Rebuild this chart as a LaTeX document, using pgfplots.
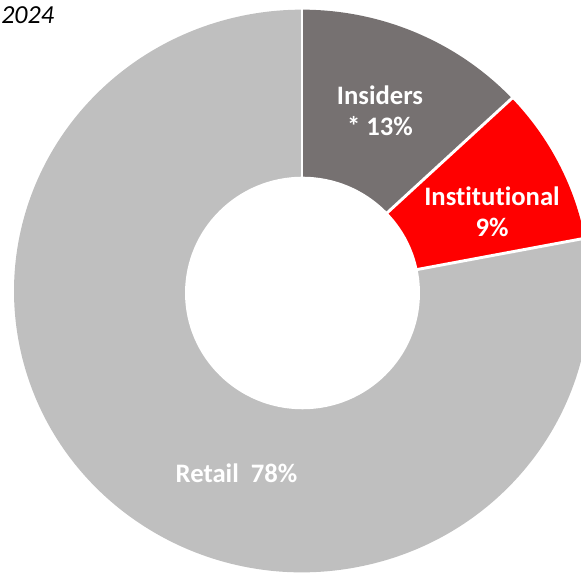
\documentclass[border=0pt]{standalone}
\usepackage{pgfplots}
\usepackage{pgfplotstable}
\pgfplotsset{compat=1.18}
\usepackage{fontspec}
\setmainfont[Ligatures=NoCommon]{Carlito}
\definecolor{insiders}{RGB}{118,113,113}
\definecolor{instit}{RGB}{255,0,0}
\definecolor{retail}{RGB}{191,191,191}
\pgfplotstableread{
name value
Insiders 13
Institutional 9
Retail 78
}\sharetable
\pgfplotstablegetelem{0}{value}\of\sharetable \let\va\pgfplotsretval
\pgfplotstablegetelem{1}{value}\of\sharetable \let\vb\pgfplotsretval
\pgfplotstablegetelem{2}{value}\of\sharetable \let\vc\pgfplotsretval
\pgfmathsetmacro\aA{90}
\pgfmathsetmacro\aB{90-3.6*\va}
\pgfmathsetmacro\aC{\aB-3.6*\vb}
\pgfmathsetmacro\aD{\aC-3.6*\vc}
\def\cx{302}\def\cy{282}
\begin{document}
\begin{tikzpicture}
\begin{axis}[
  x=0.75pt, y=0.75pt,
  xmin=0, xmax=581, ymin=0, ymax=573,
  hide axis, scale only axis, clip=true,
]
\fill[insiders] (axis cs:\cx,\cy) -- +(\aA:216pt and 211pt)
  arc[start angle=\aA, end angle=\aB, x radius=216pt, y radius=211pt] -- cycle;
\fill[instit] (axis cs:\cx,\cy) -- +(\aB:216pt and 211pt)
  arc[start angle=\aB, end angle=\aC, x radius=216pt, y radius=211pt] -- cycle;
\fill[retail] (axis cs:\cx,\cy) -- +(\aC:216pt and 211pt)
  arc[start angle=\aC, end angle=\aD, x radius=216pt, y radius=211pt] -- cycle;
\draw[white, line width=2.2pt] (axis cs:\cx,\cy) -- +(\aA:222pt and 217pt);
\draw[white, line width=2.2pt] (axis cs:\cx,\cy) -- +(\aB:222pt and 217pt);
\draw[white, line width=2.2pt] (axis cs:\cx,\cy) -- +(\aC:222pt and 217pt);
\fill[white] (axis cs:302.5,280) ellipse[x radius=88.1pt, y radius=87.2pt];
\node[font=\bfseries\fontsize{20}{23.5}\selectfont, text=white, align=center]
  at (axis cs:380,462) {Insiders\\* 13\%};
\node[font=\bfseries\fontsize{20}{23.5}\selectfont, text=white, align=center]
  at (axis cs:492,361) {Institutional\\9\%};
\node[font=\bfseries\fontsize{20}{23.5}\selectfont, text=white]
  at (axis cs:236.5,100) {Retail\ \ 78\%};
\node[font=\itshape\fontsize{19.5}{23}\selectfont, text=black, anchor=west, inner sep=0pt]
  at (axis cs:1,558) {2024};
\end{axis}
\pgfresetboundingbox
\path (current axis.south west) rectangle (current axis.north east);
\end{tikzpicture}
\end{document}
